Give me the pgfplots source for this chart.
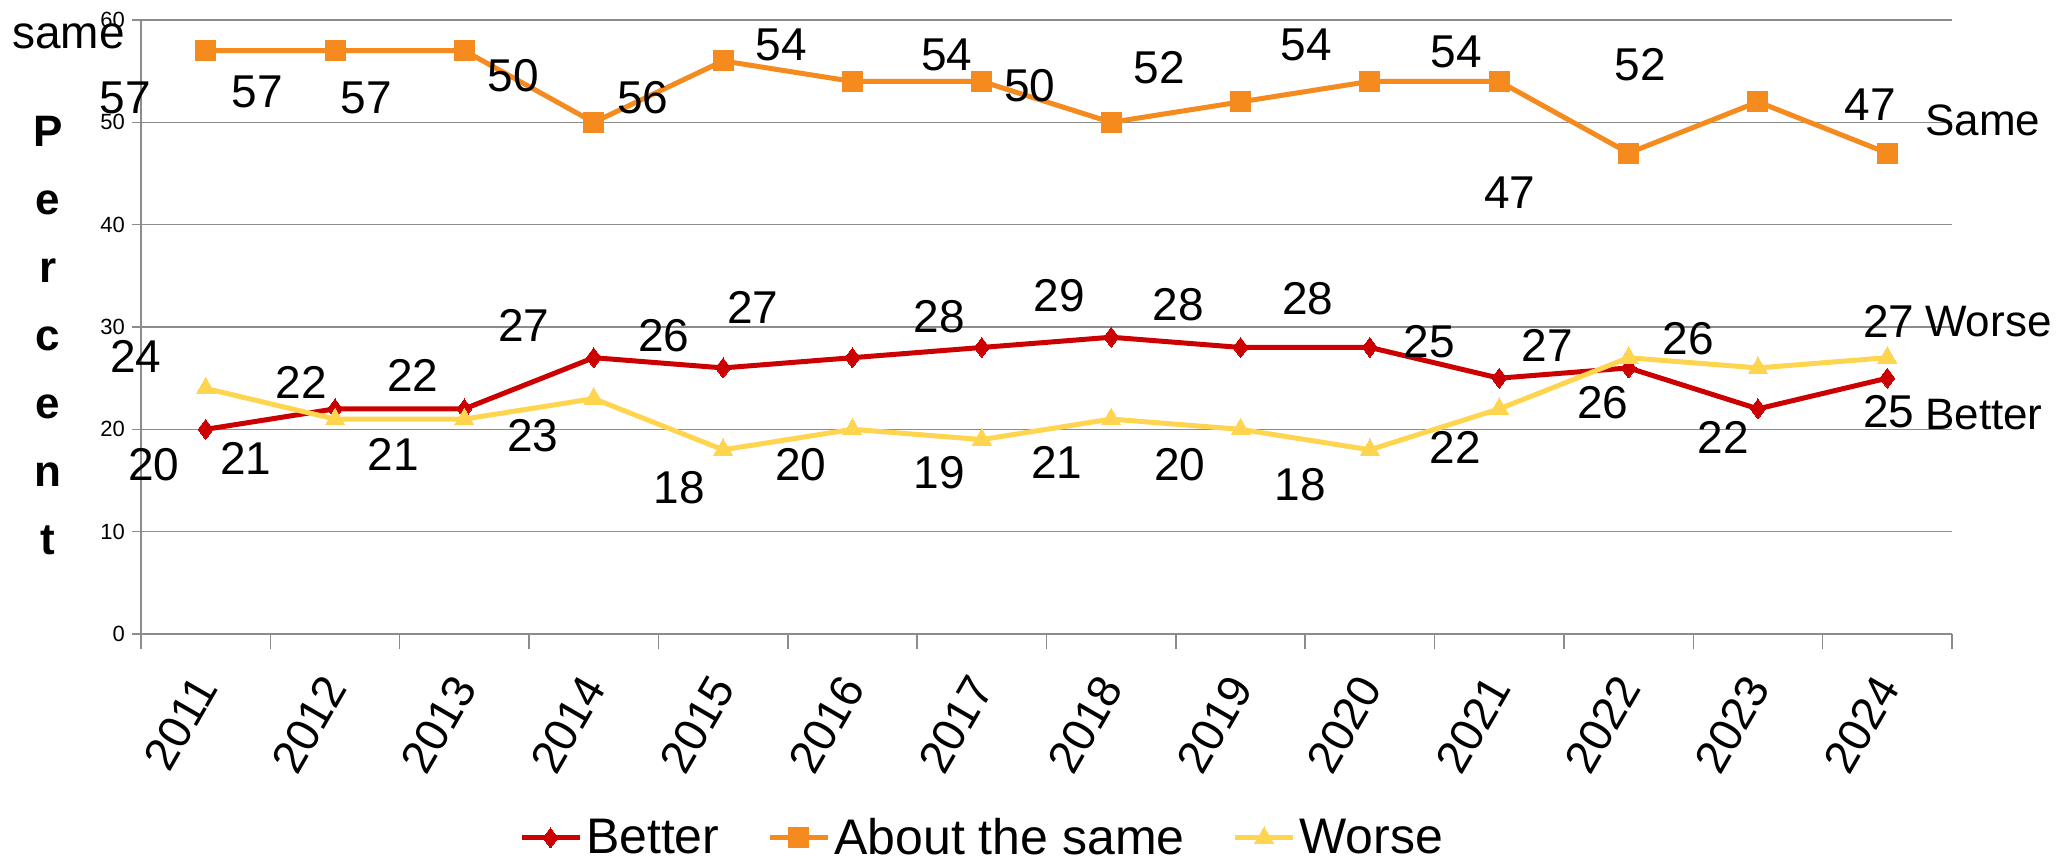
\documentclass[border=0pt]{standalone}
\usepackage{fontspec}
\setmainfont{Liberation Sans}
\usepackage{pgfplots}
\pgfplotsset{compat=1.18}

\definecolor{cBetter}{HTML}{CC0000}
\definecolor{cSame}{HTML}{F58A1F}
\definecolor{cWorse}{HTML}{FFD54F}
\definecolor{gridgray}{HTML}{8C8C8C}

\begin{document}
\begin{tikzpicture}
\begin{axis}[
  scale only axis,
  width=905.5pt, height=307pt,
  xmin=-0.5, xmax=13.5,
  ymin=0, ymax=60,
  ytick={0,10,...,60},
  xtick={0,...,13},
  xticklabels={2011,2012,2013,2014,2015,2016,2017,2018,2019,2020,2021,2022,2023,2024},
  minor xtick={-0.5,0.5,...,13.5},
  major x tick style={draw=none},
  minor tick length=7.5pt,
  major tick length=4.5pt,
  tick align=outside,
  tick style={draw=gridgray, line width=0.75pt},
  axis lines*=left,
  x axis line style={draw=gridgray, line width=1.25pt},
  y axis line style={draw=gridgray, line width=0.75pt},
  ymajorgrids,
  grid style={draw=gridgray, line width=0.75pt},
  /pgf/number format/assume math mode=true,
  yticklabel style={font=\fontsize{11}{11}\selectfont},
  xticklabel style={font=\fontsize{23}{23}\selectfont, yshift=-18.5pt, rotate=60, anchor=east, inner sep=0pt},
  clip=false,
  legend style={at={(0.465,-0.332)}, anchor=center, draw=none, legend columns=3,
    font=\fontsize{25}{25}\selectfont,
    /tikz/every even column/.append style={column sep=22pt}},
  legend cell align=left,
  legend image code/.code={
    \draw[mark repeat=2, mark phase=2, #1] plot coordinates {(0pt,0pt) (14.5pt,0pt) (29pt,0pt)};},
  every axis plot/.append style={line width=2.5pt},
]
\addplot[cBetter, mark=diamond*, mark size=5pt,
  mark options={draw=cBetter, fill=cBetter, line width=0pt}] coordinates {
  (0,20) (1,22) (2,22) (3,27) (4,26) (5,27) (6,28) (7,29) (8,28) (9,28) (10,25) (11,26) (12,22) (13,25)};
\addlegendentry{Better}
\addplot[cSame, mark=square*, mark size=5pt,
  mark options={draw=cSame, fill=cSame, line width=0pt}] coordinates {
  (0,57) (1,57) (2,57) (3,50) (4,56) (5,54) (6,54) (7,50) (8,52) (9,54) (10,54) (11,47) (12,52) (13,47)};
\addlegendentry{About the same}
\addplot[cWorse, mark=triangle*, mark size=5.5pt,
  mark options={draw=cWorse, fill=cWorse, line width=0pt}] coordinates {
  (0,24) (1,21) (2,21) (3,23) (4,18) (5,20) (6,19) (7,21) (8,20) (9,18) (10,22) (11,27) (12,26) (13,27)};
\addlegendentry{Worse}

\coordinate (ll) at (rel axis cs:0,0);
\coordinate (ur) at (rel axis cs:1,1);

\tikzset{lbl/.style={font=\fontsize{23}{23}\selectfont, inner sep=0pt, anchor=center},
         side/.style={font=\fontsize{22}{22}\selectfont, inner sep=0pt, anchor=west}}
% upper labels
\node[lbl] at (axis cs:-0.62,52.4) {57};
\node[lbl] at (axis cs:0.40,53.0) {57};
\node[lbl] at (axis cs:1.24,52.4) {57};
\node[lbl] at (axis cs:2.38,54.6) {50};
\node[lbl] at (axis cs:3.38,52.4) {56};
\node[lbl] at (axis cs:4.45,57.6) {54};
\node[lbl] at (axis cs:5.73,56.6) {54};
\node[lbl] at (axis cs:6.37,53.6) {50};
\node[lbl] at (axis cs:7.37,55.3) {52};
\node[lbl] at (axis cs:8.51,57.6) {54};
\node[lbl] at (axis cs:9.67,56.9) {54};
\node[lbl] at (axis cs:11.09,55.6) {52};
\node[lbl] at (axis cs:10.08,43.1) {47};
\node[lbl] at (axis cs:12.87,51.7) {47};
% middle labels
\node[lbl] at (axis cs:-0.54,27.1) {24};
\node[lbl] at (axis cs:0.74,24.6) {22};
\node[lbl] at (axis cs:1.60,25.3) {22};
\node[lbl] at (axis cs:2.46,30.2) {27};
\node[lbl] at (axis cs:3.54,29.2) {26};
\node[lbl] at (axis cs:4.23,31.9) {27};
\node[lbl] at (axis cs:5.67,31.0) {28};
\node[lbl] at (axis cs:6.60,33.1) {29};
\node[lbl] at (axis cs:7.52,32.2) {28};
\node[lbl] at (axis cs:8.52,32.8) {28};
\node[lbl] at (axis cs:9.46,28.6) {25};
\node[lbl] at (axis cs:10.37,28.2) {27};
\node[lbl] at (axis cs:11.46,28.9) {26};
\node[lbl] at (axis cs:13.01,30.5) {27};
% lower labels
\node[lbl] at (axis cs:-0.40,16.5) {20};
\node[lbl] at (axis cs:0.31,17.2) {21};
\node[lbl] at (axis cs:1.45,17.5) {21};
\node[lbl] at (axis cs:2.53,19.4) {23};
\node[lbl] at (axis cs:3.66,14.3) {18};
\node[lbl] at (axis cs:4.60,16.5) {20};
\node[lbl] at (axis cs:5.67,15.8) {19};
\node[lbl] at (axis cs:6.58,16.8) {21};
\node[lbl] at (axis cs:7.53,16.5) {20};
\node[lbl] at (axis cs:8.46,14.6) {18};
\node[lbl] at (axis cs:9.66,18.2) {22};
\node[lbl] at (axis cs:10.80,22.6) {26};
\node[lbl] at (axis cs:11.73,19.2) {22};
\node[lbl] at (axis cs:13.01,21.7) {25};
% series names on the right
\node[side] at (axis cs:13.29,50.2) {Same};
\node[side] at (axis cs:13.29,30.5) {Worse};
\node[side] at (axis cs:13.29,21.4) {Better};
\node[lbl] at (axis cs:-1.06,58.4) {same};
% stacked axis title
\node[inner sep=0pt, align=center, font=\bfseries\fontsize{22}{34}\selectfont]
  at (axis cs:-1.22,29.2) {P\\e\\r\\c\\e\\n\\t};
\end{axis}
\path (ll) ++(-70.5pt,-115.5pt) coordinate (bl);
\path (ur) ++(58pt,10pt) coordinate (tr);
\pgfresetboundingbox
\path (bl) rectangle (tr);
\end{tikzpicture}
\end{document}
